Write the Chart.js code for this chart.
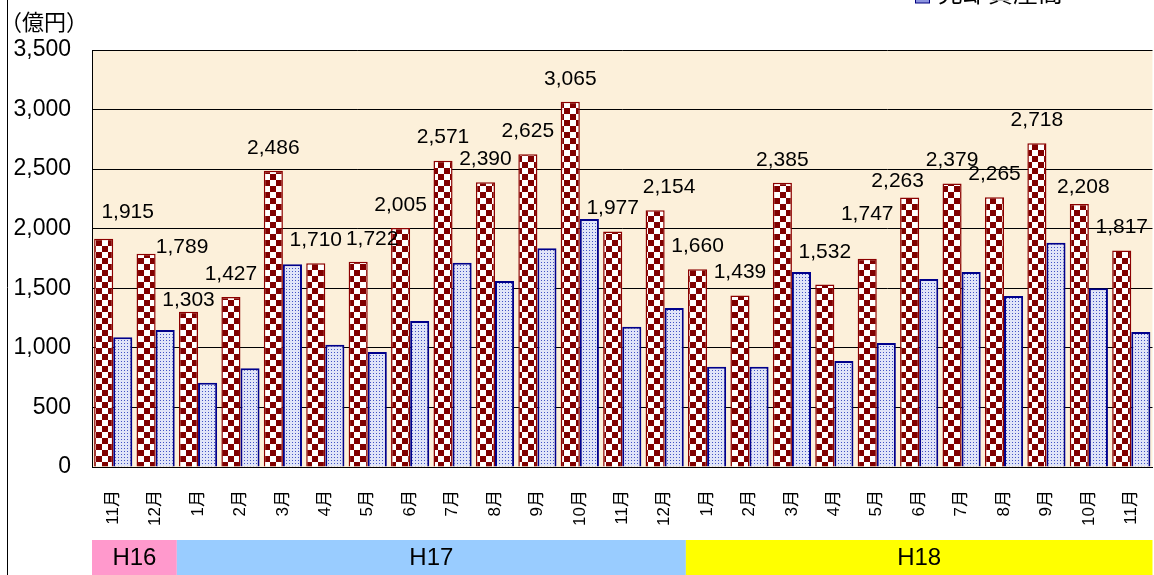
<!DOCTYPE html>
<html>
<head>
<meta charset="utf-8">
<script src="https://cdn.jsdelivr.net/npm/chart.js@4/dist/chart.umd.min.js"></script>
<style>
  html, body { margin: 0; padding: 0; background: #fff; overflow: hidden; }
  #wrap { position: relative; width: 1175px; height: 575px; }
</style>
</head>
<body>
<div id="wrap"><canvas id="chart" width="1175" height="575"></canvas></div>
<script>
// months H16/11 .. H18/11
var months = ['11月','12月','1月','2月','3月','4月','5月','6月','7月','8月','9月','10月','11月','12月',
              '1月','2月','3月','4月','5月','6月','7月','8月','9月','10月','11月'];
var eras = ['H16', 'H17', 'H18'];
var eraMonths = [2, 12, 11];
var eraColors = ['#ff99cc', '#99ccff', '#ffff00'];

var salesName = '販売額';
var salesValues = [1915, 1789, 1303, 1427, 2486, 1710, 1722, 2005, 2571, 2390, 2625, 3065, 1977, 2154,
                   1660, 1439, 2385, 1532, 1747, 2263, 2379, 2265, 2718, 2208, 1817];
var assetName = '売却資産高';
var assetValues = [1089, 1150, 708, 828, 1701, 1027, 965, 1225, 1715, 1561, 1835, 2082, 1178, 1335,
                   842, 842, 1637, 890, 1041, 1578, 1637, 1435, 1883, 1500, 1133];
var yMax = 3500;
var yStep = 500;
var unitLabel = '（億円）';

var FONT = "'Liberation Sans', Arial, 'Noto Sans CJK JP', sans-serif";
var JFONT = "'Noto Sans CJK JP', 'Liberation Sans', sans-serif";

// label nudges, px (data label placement as in the original)
var labelNudge = { 0: [24, -4], 1: [36, 16], 2: [0, 11], 6: [14, 0], 13: [14, 0],
                   17: [0, -9], 18: [0, -22], 19: [-12, 7], 23: [4, 6] };

function checker() {
  var c = document.createElement('canvas');
  c.width = 12; c.height = 12;
  var g = c.getContext('2d');
  g.fillStyle = '#ffffff'; g.fillRect(0, 0, 12, 12);
  g.fillStyle = '#800000';
  g.fillRect(0, 0, 6, 6); g.fillRect(6, 6, 6, 6);
  return g.createPattern(c, 'repeat');
}
function dots() {
  var c = document.createElement('canvas');
  c.width = 3; c.height = 3;
  var g = c.getContext('2d');
  g.fillStyle = '#e0e4f8'; g.fillRect(0, 0, 3, 3);
  g.fillStyle = '#4252c4'; g.fillRect(1, 1, 1, 1);
  return g.createPattern(c, 'repeat');
}

var decor = {
  id: 'decor',
  beforeDraw: function(chart) {
    var ctx = chart.ctx, a = chart.chartArea;
    ctx.save();
    ctx.fillStyle = '#fcf0da';
    ctx.fillRect(a.left, a.top, a.right - a.left, a.bottom - a.top);
    ctx.restore();
  },
  afterDatasetsDraw: function(chart) {
    var ctx = chart.ctx;
    var meta = chart.getDatasetMeta(0);
    ctx.save();
    ctx.font = '21px ' + FONT;
    ctx.fillStyle = '#000';
    ctx.textAlign = 'center';
    ctx.textBaseline = 'middle';
    meta.data.forEach(function(bar, i) {
      var n = labelNudge[i] || [0, 0];
      ctx.fillText(salesValues[i].toLocaleString('en-US'), bar.x + n[0], bar.y - 23 + n[1]);
    });
    ctx.restore();
  },
  afterDraw: function(chart) {
    var ctx = chart.ctx, x = chart.scales.x;
    var half = (x.getPixelForValue(1) - x.getPixelForValue(0)) / 2;
    ctx.save();
    // frame line at the left
    ctx.strokeStyle = '#000'; ctx.lineWidth = 1;
    ctx.beginPath(); ctx.moveTo(7.5, 0); ctx.lineTo(7.5, 575); ctx.stroke();
    // unit
    ctx.font = '22px ' + JFONT;
    ctx.fillStyle = '#000';
    ctx.textBaseline = 'middle';
    ctx.textAlign = 'left';
    ctx.fillText(unitLabel, 0, 22);
    // era band
    var start = 0;
    eras.forEach(function(era, k) {
      var l = x.getPixelForValue(start) - half;
      var r = x.getPixelForValue(start + eraMonths[k] - 1) + half;
      ctx.fillStyle = eraColors[k];
      ctx.fillRect(l, 540, r - l, 35);
      ctx.fillStyle = '#000';
      ctx.font = '24px ' + FONT;
      ctx.textAlign = 'center';
      ctx.fillText(era, (l + r) / 2, 558);
      start += eraMonths[k];
    });
    // legend entry (cut off at the top)
    ctx.fillStyle = '#8c94e0';
    ctx.fillRect(915, -10, 15, 13);
    ctx.strokeStyle = '#000080'; ctx.lineWidth = 1;
    ctx.strokeRect(915.5, -10, 14, 13);
    ctx.fillStyle = '#000';
    ctx.font = '25px ' + JFONT;
    ctx.textAlign = 'left';
    ctx.textBaseline = 'ideographic';
    ctx.fillText(assetName, 938, 5);
    ctx.restore();
  }
};

new Chart(document.getElementById('chart'), {
  type: 'bar',
  data: {
    labels: months,
    datasets: [
      { label: salesName, data: salesValues, backgroundColor: checker(),
        borderColor: '#8b0000', borderWidth: 1.5 },
      { label: assetName, data: assetValues, backgroundColor: dots(),
        borderColor: '#00008b', borderWidth: 2 }
    ]
  },
  options: {
    responsive: false,
    animation: false,
    layout: { padding: { top: 50, right: 16, left: 0, bottom: 0 } },
    categoryPercentage: 0.9,
    barPercentage: 1,
    plugins: { legend: { display: false }, tooltip: { enabled: false } },
    scales: {
      x: {
        grid: { display: false, drawTicks: false },
        border: { color: '#000', width: 1 },
        ticks: { color: '#000', font: { family: FONT, size: 17 }, minRotation: 90, maxRotation: 90,
                 autoSkip: false, padding: 23 },
        afterFit: function(s) { s.height = 108; }
      },
      y: {
        min: 0, max: yMax,
        grid: { color: '#000', lineWidth: 1, drawTicks: false },
        border: { color: '#000', width: 1 },
        ticks: { stepSize: yStep, color: '#000', font: { family: FONT, size: 23 }, padding: 21,
                 callback: function(v) { return v.toLocaleString('en-US'); } },
        afterFit: function(s) { s.width = 92; }
      }
    }
  },
  plugins: [decor]
});
</script>
</body>
</html>
